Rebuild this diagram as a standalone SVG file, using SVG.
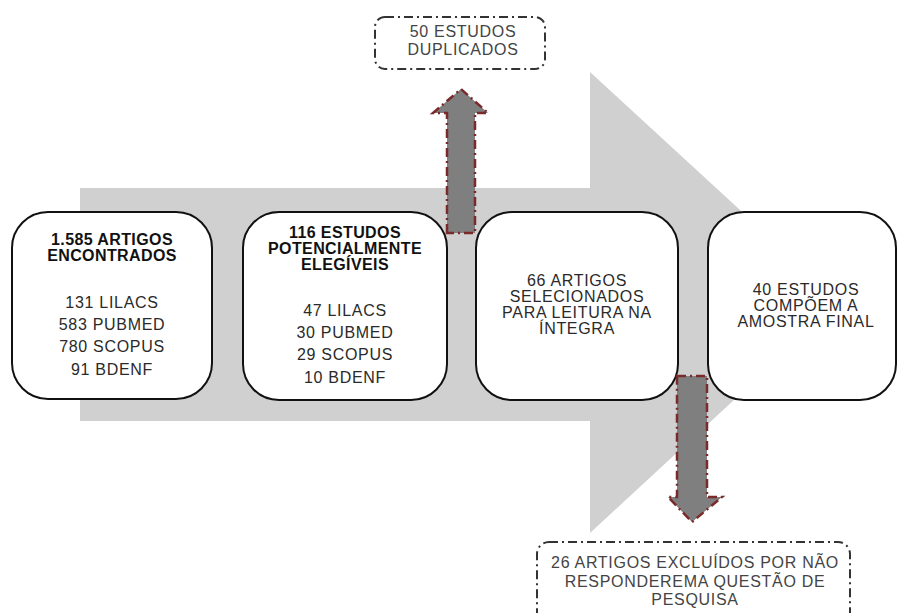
<svg xmlns="http://www.w3.org/2000/svg" width="898" height="613" viewBox="0 0 898 613">
<style>
.box{fill:#fff;stroke:#111;stroke-width:2}
.dbox{fill:#fff;stroke:#333;stroke-width:2;stroke-dasharray:9 4 2 4}
.side{fill:#7f7f7f;stroke:#7a2a2a;stroke-width:2.5;stroke-dasharray:9 4 2 4}
text{font-family:"Liberation Sans",Arial,sans-serif;font-size:16px;fill:#2a2a2a;text-anchor:middle;letter-spacing:0.7px}
.b{font-weight:bold;fill:#111;letter-spacing:0.4px}
.g{fill:#444}
</style>
<rect width="898" height="613" fill="#fff"/>
<g id="big-arrow">
<polygon points="80,188 590,188 590,72 840,302 590,533 590,421 80,421" fill="#d0d0d0"/>
</g>
<g id="box1">
<rect class="box" x="12" y="212" width="200" height="187" rx="36"/>
<text class="b" x="112" y="245">1.585 ARTIGOS</text>
<text class="b" x="112" y="261">ENCONTRADOS</text>
<text x="112" y="308">131 LILACS</text>
<text x="112" y="330">583 PUBMED</text>
<text x="112" y="352">780 SCOPUS</text>
<text x="112" y="375">91 BDENF</text>
</g>
<g id="box2">
<rect class="box" x="243" y="212" width="204" height="188" rx="36"/>
<text class="b" x="345" y="238">116 ESTUDOS</text>
<text class="b" x="345" y="254">POTENCIALMENTE</text>
<text class="b" x="345" y="270">ELEGÍVEIS</text>
<text x="345" y="316">47 LILACS</text>
<text x="345" y="338">30 PUBMED</text>
<text x="345" y="360">29 SCOPUS</text>
<text x="345" y="383">10 BDENF</text>
</g>
<g id="box3">
<rect class="box" x="476" y="212" width="202" height="188" rx="36"/>
<text x="577" y="286">66 ARTIGOS</text>
<text x="577" y="302">SELECIONADOS</text>
<text x="577" y="318">PARA LEITURA NA</text>
<text x="577" y="334">ÍNTEGRA</text>
</g>
<g id="box4">
<rect class="box" x="708" y="212" width="188" height="188" rx="36"/>
<text x="806" y="295">40 ESTUDOS</text>
<text x="806" y="311">COMPÕEM A</text>
<text x="806" y="327">AMOSTRA FINAL</text>
</g>
<g id="connectors">
<polygon class="side" points="447,233 447,113 433,113 461,89 488,113 475,113 475,233"/>
<polygon class="side" points="677,376 707,376 707,497 722,497 692,522 668,497 677,497"/>
</g>
<g id="dup">
<rect class="dbox" x="375" y="17" width="170" height="52" rx="10"/>
<text class="g" x="463" y="37">50 ESTUDOS</text>
<text class="g" x="463" y="55">DUPLICADOS</text>
</g>
<g id="excl">
<rect class="dbox" x="537" y="542" width="313" height="90" rx="12"/>
<text class="g" x="695" y="568">26 ARTIGOS  EXCLUÍDOS POR NÃO</text>
<text class="g" x="695" y="587">RESPONDEREMA QUESTÃO DE</text>
<text class="g" x="695" y="605">PESQUISA</text>
</g>
</svg>
